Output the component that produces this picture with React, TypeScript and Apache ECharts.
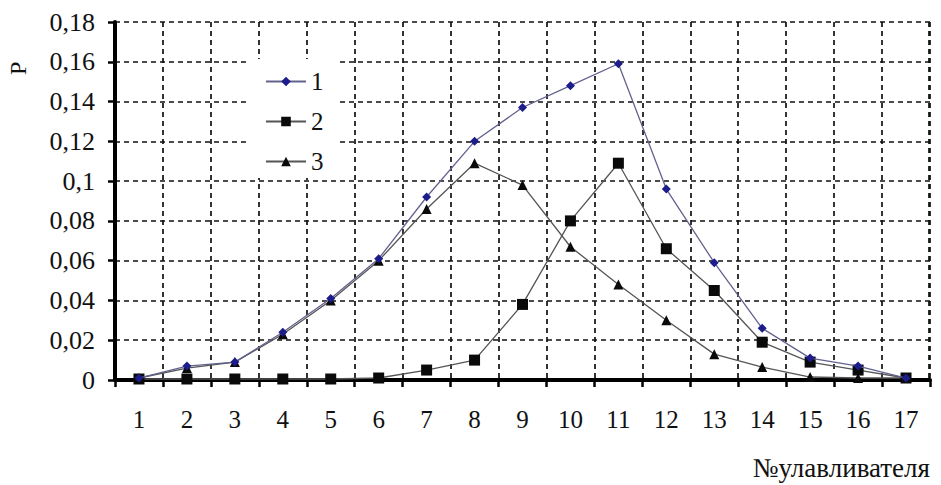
import React, { useEffect, useRef } from "react";
import * as echarts from "echarts";

const categories = ["1","2","3","4","5","6","7","8","9","10","11","12","13","14","15","16","17"];
const series1 = [0.001, 0.007, 0.009, 0.024, 0.041, 0.061, 0.092, 0.12, 0.137, 0.148, 0.159, 0.096, 0.059, 0.026, 0.011, 0.007, 0.001];
const series2 = [0.0005, 0.0005, 0.0005, 0.0005, 0.0005, 0.001, 0.005, 0.01, 0.038, 0.08, 0.109, 0.066, 0.045, 0.019, 0.009, 0.005, 0.001];
const series3 = [0.001, 0.006, 0.009, 0.023, 0.04, 0.06, 0.086, 0.109, 0.098, 0.067, 0.048, 0.03, 0.013, 0.0065, 0.0015, 0.001, 0.001];
const seriesNames = ["1", "2", "3"];

const FONT = "Liberation Serif";

export default function App() {
  const ref = useRef<HTMLDivElement>(null);
  useEffect(() => {
    if (!ref.current) return;
    const chart = echarts.init(ref.current, null, { renderer: "svg" });
    chart.setOption({
      animation: false,
      backgroundColor: "#ffffff",
      textStyle: { fontFamily: FONT },
      grid: { left: 115, right: 11, top: 22, bottom: 105 },
      legend: {
        orient: "vertical",
        left: 250,
        top: 59,
        itemWidth: 40,
        itemHeight: 12,
        itemGap: 15,
        backgroundColor: "#ffffff",
        padding: [10, 16, 4, 15],
        formatter: "{a|{name}}",
        textStyle: { fontFamily: FONT, rich: { a: { fontFamily: FONT, fontSize: 25, color: "#111" } } },
        data: seriesNames,
      },
      xAxis: {
        type: "category",
        data: categories,
        boundaryGap: true,
        name: "№улавливателя",
        nameLocation: "end",
        nameGap: 0,
        nameTextStyle: {
          fontFamily: FONT,
          fontSize: 27,
          color: "#111",
          align: "right",
          verticalAlign: "top",
          padding: [74, 0, 0, 0],
        },
        axisLine: { show: true, lineStyle: { color: "#000", width: 4 } },
        axisTick: { show: true, alignWithLabel: false, length: 7, lineStyle: { color: "#000", width: 2.5 } },
        axisLabel: {
          margin: 27,
          formatter: "{a|{value}}",
          rich: { a: { fontFamily: FONT, fontSize: 25, color: "#111" } },
        },
        splitLine: { show: true, lineStyle: { color: "#111", type: [5, 4], width: 1.7 } },
      },
      yAxis: {
        type: "value",
        min: 0,
        max: 0.18,
        interval: 0.02,
        axisLine: { show: true, lineStyle: { color: "#000", width: 4 } },
        axisTick: { show: true, length: 7, lineStyle: { color: "#000", width: 2.5 } },
        axisLabel: {
          margin: 20,
          formatter: (v: number) => {
            let s = v.toFixed(2);
            s = s.replace(/0+$/, "").replace(/\.$/, "");
            return "{a|" + s.replace(".", ",") + "}";
          },
          rich: { a: { fontFamily: FONT, fontSize: 26, color: "#111" } },
        },
        splitLine: { show: true, lineStyle: { color: "#111", type: [5, 4], width: 1.7 } },
      },
      graphic: [
        {
          type: "text",
          x: 6,
          y: 75,
          rotation: Math.PI / 2,
          style: { text: "P", fontFamily: FONT, fontSize: 24, fill: "#111" },
        },
        {
          type: "line",
          shape: { x1: 929, y1: 22, x2: 929, y2: 380 },
          style: { stroke: "#111", lineWidth: 1.7, lineDash: [5, 4] },
        },
      ],
      series: [
        {
          name: "1",
          type: "line",
          data: series1,
          symbol: "diamond",
          symbolSize: 9,
          itemStyle: { color: "#1c1c8a" },
          lineStyle: { color: "#62628f", width: 1.3 },
          z: 5,
        },
        {
          name: "2",
          type: "line",
          data: series2,
          symbol: "rect",
          symbolSize: 11,
          itemStyle: { color: "#0a0a0a" },
          lineStyle: { color: "#555", width: 1.3 },
          z: 4,
        },
        {
          name: "3",
          type: "line",
          data: series3,
          symbol: "triangle",
          symbolSize: 10,
          itemStyle: { color: "#0a0a0a" },
          lineStyle: { color: "#555", width: 1.3 },
          z: 3,
        },
      ],
    });
    return () => chart.dispose();
  }, []);
  return <div ref={ref} style={{ width: 941, height: 485, position: "absolute", left: 0, top: 0 }} />;
}
